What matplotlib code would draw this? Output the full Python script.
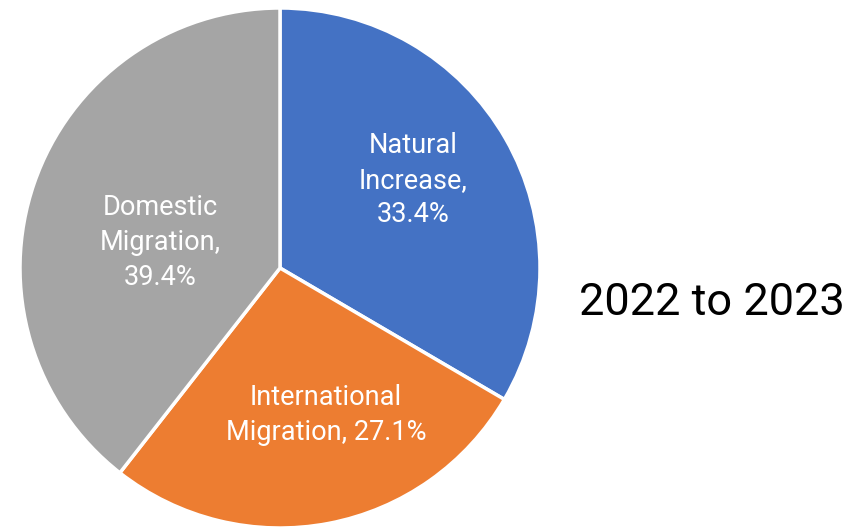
import matplotlib
matplotlib.use("Agg")
import matplotlib.pyplot as plt

categories = ["Natural Increase", "International Migration", "Domestic Migration"]
values = [33.4, 27.1, 39.4]
colors = ["#4472C4", "#ED7D31", "#A5A5A5"]
label_texts = ["Natural\nIncrease,\n33.4%", "International\nMigration, 27.1%", "Domestic\nMigration,\n39.4%"]
label_pos = [(0.512, 0.338), (0.177, -0.566), (-0.462, 0.098)]
title = "2022 to 2023"

W, H = 859, 529
fig = plt.figure(figsize=(W / 100, H / 100), dpi=100)
cx, cy, r = 280, 268, 260
ax = fig.add_axes([(cx - r) / W, (H - cy - r) / H, 2 * r / W, 2 * r / H])
ax.pie(values, colors=colors, startangle=90, counterclock=False, radius=1,
       wedgeprops=dict(edgecolor="white", linewidth=2.5))
ax.set_xlim(-1, 1)
ax.set_ylim(-1, 1)
ax.set_aspect("equal")
ax.axis("off")

for txt, (x, y) in zip(label_texts, label_pos):
    ax.text(x, y, txt, ha="center", va="center", color="white",
            fontsize=19.5, linespacing=1.36, family="Roboto")

fig.text(712 / W, 1 - 303 / H, title, ha="center", va="center",
         fontsize=32.5, color="black", family="Roboto")

fig.savefig("out.png", dpi=100)
